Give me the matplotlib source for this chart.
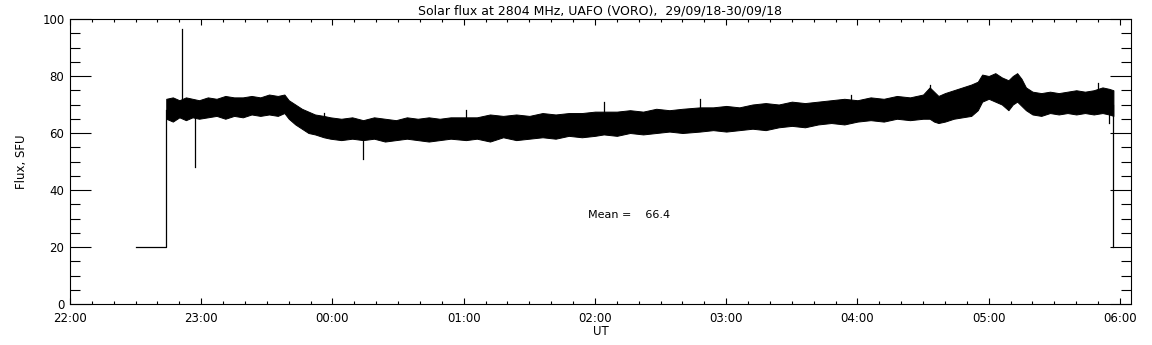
#!/usr/bin/env python3
"""Solar flux at 2804 MHz, UAFO (VORO) -- IDL style daily radio flux plot."""

import matplotlib

matplotlib.use("Agg")
import matplotlib.pyplot as plt

plt.rcParams["font.family"] = "DejaVu Sans"
plt.rcParams["font.size"] = 8.5

title = "Solar flux at 2804 MHz, UAFO (VORO),  29/09/18-30/09/18"
mean_text = "Mean =    66.4"

# Noise band of the record, read as a lower / upper envelope (SFU).
band_time = ["22:44", "22:47", "22:50", "22:53", "22:56", "22:59", "23:03",
             "23:07", "23:11", "23:15", "23:19", "23:23", "23:27", "23:31",
             "23:35", "23:38", "23:40", "23:43", "23:46", "23:49", "23:52",
             "23:56", "23:59", "00:04", "00:09", "00:14", "00:19", "00:24",
             "00:29", "00:34", "00:39", "00:44", "00:49", "00:54", "01:01",
             "01:06", "01:12", "01:18", "01:24", "01:30", "01:36", "01:42",
             "01:48", "01:54", "02:00", "02:04", "02:10", "02:16", "02:22",
             "02:28", "02:34", "02:40", "02:48", "02:54", "03:00", "03:06",
             "03:12", "03:18", "03:24", "03:30", "03:36", "03:42", "03:48",
             "03:54", "04:00", "04:06", "04:12", "04:18", "04:24", "04:30",
             "04:33", "04:35", "04:37", "04:40", "04:44", "04:48", "04:52",
             "04:55", "04:57", "05:00", "05:03", "05:06", "05:09", "05:11",
             "05:13", "05:15", "05:17", "05:20", "05:24", "05:28", "05:32",
             "05:36", "05:40", "05:44", "05:48", "05:52", "05:55", "05:57"]
band_low = [65.0, 64.0, 65.5, 64.5, 65.5, 65.0, 65.5,
            66.0, 65.0, 66.0, 65.5, 66.5, 66.0, 66.5,
            66.0, 67.0, 65.0, 63.0, 61.5, 60.0, 59.5,
            58.5, 58.0, 57.5, 58.0, 57.5, 58.0, 57.0,
            57.5, 58.0, 57.5, 57.0, 57.5, 58.0, 57.5,
            58.0, 57.0, 58.5, 57.5, 58.0, 58.5, 58.0,
            59.0, 58.5, 59.0, 59.5, 59.0, 60.0, 59.5,
            60.0, 60.5, 60.0, 60.5, 61.0, 60.5, 61.0,
            61.5, 61.0, 62.0, 62.5, 62.0, 63.0, 63.5,
            63.0, 64.0, 64.5, 64.0, 65.0, 64.5, 65.0,
            65.0, 64.0, 63.5, 64.0, 65.0, 65.5, 66.0,
            68.0, 71.0, 72.0, 71.0, 70.0, 68.0, 70.0,
            71.0, 69.5, 68.0, 66.5, 66.0, 67.0, 66.5,
            67.0, 66.5, 67.0, 66.5, 67.0, 66.5, 66.0]
band_high = [72.0, 72.5, 71.5, 72.5, 72.0, 71.5, 72.5,
             72.0, 73.0, 72.5, 72.5, 73.0, 72.5, 73.5,
             73.0, 73.5, 71.5, 70.0, 68.5, 67.5, 66.5,
             66.0, 65.5, 65.0, 65.5, 64.5, 65.5, 65.0,
             64.5, 65.5, 65.0, 65.5, 65.0, 65.5, 65.5,
             65.5, 66.5, 66.0, 66.5, 66.0, 67.0, 66.5,
             67.0, 67.0, 67.5, 67.5, 67.5, 68.0, 67.5,
             68.5, 68.0, 68.5, 69.0, 69.0, 69.5, 69.0,
             70.0, 70.5, 70.0, 71.0, 70.5, 71.0, 71.5,
             72.0, 71.5, 72.5, 72.0, 73.0, 72.5, 73.5,
             76.0, 74.5, 73.0, 74.0, 75.0, 76.0, 77.0,
             78.0, 80.5, 80.0, 81.0, 79.5, 78.5, 80.0,
             81.0, 79.0, 76.0, 74.5, 74.0, 74.5, 74.0,
             74.5, 75.0, 74.5, 75.0, 76.0, 75.5, 75.0]

# Single samples outside the band (the 20 SFU fill level and spikes).
edge_time = ["22:30", "22:44", "22:44"]
edge_flux = [20.0, 20.0, 68.0]
end_time = ["05:57", "05:57"]
end_flux = [70.0, 20.0]
spike_time = ["22:51", "22:57", "00:14", "05:55", "23:56", "01:01",
              "02:04", "02:48", "03:57", "04:33", "05:50"]
spike_base = [70.0, 66.0, 58.0, 67.0, 64.0, 62.0,
              64.0, 66.0, 68.0, 70.0, 72.0]
spike_peak = [96.5, 48.0, 51.0, 63.5, 67.0, 68.0,
              71.0, 72.0, 73.5, 77.0, 77.5]

x_ticks = ["22:00", "23:00", "00:00", "01:00", "02:00", "03:00",
           "04:00", "05:00", "06:00"]
y_ticks = [0, 20, 40, 60, 80, 100]


def hours(clock):
    """Clock string -> hours after 22:00 (wrapping past midnight)."""
    h, m = clock.split(":")
    h = int(h)
    if h < 22:
        h += 24
    return h - 22 + int(m) / 60.0


fig = plt.figure(figsize=(11.52, 3.45), dpi=100)
ax = fig.add_axes([70 / 1152, 41 / 345, 1061 / 1152, 285 / 345])

bt = [hours(t) for t in band_time]
ax.fill_between(bt, band_low, band_high, color="black", lw=0.7)
ax.plot([hours(t) for t in edge_time], edge_flux, color="black", lw=0.9)
ax.plot([hours(t) for t in end_time], end_flux, color="black", lw=0.9)
for t, b, p in zip(spike_time, spike_base, spike_peak):
    ax.plot([hours(t), hours(t)], [b, p], color="black", lw=0.9)

ax.text(hours("01:57"), 31.2, mean_text, fontsize=8, ha="left", va="center")

ax.set_xlim(0, 8.084)
ax.set_ylim(0, 100)
ax.set_xticks([hours(t) if t != "22:00" else 0.0 for t in x_ticks])
ax.set_xticklabels(x_ticks)
ax.set_xticks([i / 6 for i in range(49) if i % 6], minor=True)
ax.set_yticks(y_ticks)
ax.set_yticks([v for v in range(0, 101, 5) if v % 20], minor=True)

ax.tick_params(axis="x", which="major", direction="in", length=4.3,
               width=0.8, top=True, bottom=True, pad=6)
ax.tick_params(axis="x", which="minor", direction="in", length=2.2,
               width=0.8, top=True, bottom=True)
ax.tick_params(axis="y", which="major", direction="in", length=15,
               width=0.8, left=True, right=True, pad=4)
ax.tick_params(axis="y", which="minor", direction="in", length=7.2,
               width=0.8, left=True, right=True)
for s in ax.spines.values():
    s.set_linewidth(0.8)

ax.set_xlabel("UT", labelpad=0)
ax.set_ylabel("Flux, SFU", labelpad=10)
ax.set_title(title, fontsize=9, pad=3)

fig.savefig("out.png", dpi=100)
